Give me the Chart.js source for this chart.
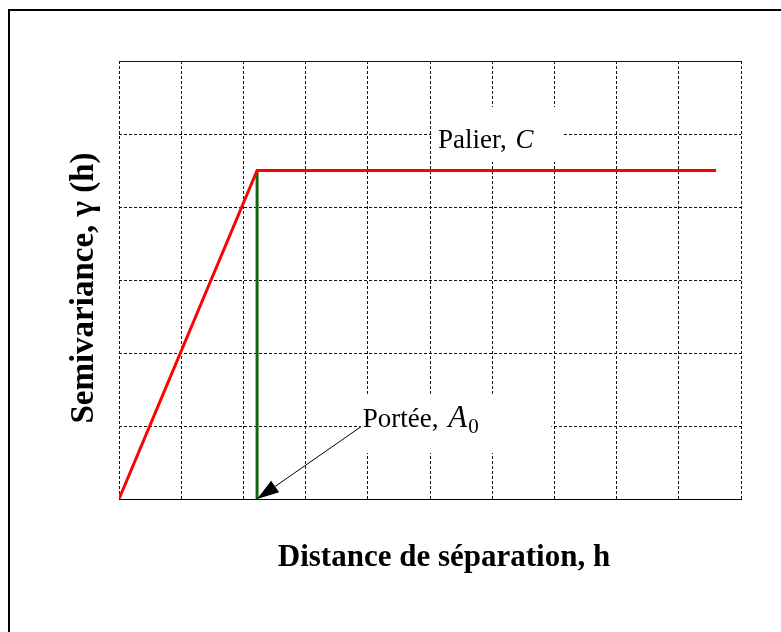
<!DOCTYPE html>
<html lang="fr">
  <head>
    <meta charset="UTF-8" />
    <title>Semivariogramme</title>
    <script src="https://cdn.jsdelivr.net/npm/chart.js"></script>
    <style>
      html,
      body {
        margin: 0;
        padding: 0;
        background: #fff;
      }
      .chart-container {
        position: relative;
        width: 781px;
        height: 632px;
      }
    </style>
  </head>
  <body>
    <div class="chart-container">
      <canvas id="variogramChart"></canvas>
    </div>

    <script>
      // model: linear ramp up to the range, then flat sill
      const modelX = [0, 2.22, 9.6];
      const modelY = [0, 4.5, 4.5];
      // range marker (vertical line at A0)
      const rangeX = [2.22, 2.22];
      const rangeY = [0, 4.5];

      const xTitle = "Distance de séparation, h";
      const yTitle = "Semivariance, \u03b3 (h)";
      const sillLabel = ["Palier, ", "C"];
      const rangeLabel = ["Portée, ", "A", "0"];

      const toPoints = (xs, ys) => xs.map((x, i) => ({ x: x, y: ys[i] }));

      const serif = "'Liberation Serif', 'Times New Roman', serif";

      const annotationPlugin = {
        id: "annotations",
        beforeDatasetsDraw(chart) {
          const ctx = chart.ctx;
          const xs = chart.scales.x;
          const ys = chart.scales.y;
          ctx.save();
          ctx.fillStyle = "#fff";
          // label boxes hide the grid behind the text
          const box = (x0, x1, y0, y1) => {
            const l = xs.getPixelForValue(x0);
            const r = xs.getPixelForValue(x1);
            const t = ys.getPixelForValue(y1);
            const b = ys.getPixelForValue(y0);
            ctx.fillRect(l, t, r - l, b - t);
          };
          box(5.02, 7.12, 4.62, 5.37);
          box(3.89, 6.95, 0.63, 1.44);
          ctx.restore();
        },
        afterDatasetsDraw(chart) {
          const ctx = chart.ctx;
          const xs = chart.scales.x;
          const ys = chart.scales.y;
          ctx.save();
          ctx.fillStyle = "#000";
          ctx.textBaseline = "alphabetic";
          ctx.textAlign = "left";

          // Palier, C
          let px = xs.getPixelForValue(5.13);
          let py = ys.getPixelForValue(4.81);
          ctx.font = "27px " + serif;
          ctx.fillText(sillLabel[0], px, py);
          px += ctx.measureText(sillLabel[0]).width + 2;
          ctx.font = "italic 27px " + serif;
          ctx.fillText(sillLabel[1], px, py);

          // Portée, A0
          px = xs.getPixelForValue(3.92);
          py = ys.getPixelForValue(0.99);
          ctx.font = "27px " + serif;
          ctx.fillText(rangeLabel[0], px, py);
          px += ctx.measureText(rangeLabel[0]).width + 3;
          ctx.font = "italic 31px " + serif;
          ctx.fillText(rangeLabel[1], px, py);
          px += ctx.measureText(rangeLabel[1]).width + 1;
          ctx.font = "21px " + serif;
          ctx.fillText(rangeLabel[2], px, py + 6);

          // arrow from label to the range on the axis
          const ax0 = xs.getPixelForValue(3.89);
          const ay0 = ys.getPixelForValue(0.99);
          const ax1 = xs.getPixelForValue(rangeX[0]);
          const ay1 = ys.getPixelForValue(0);
          const ang = Math.atan2(ay1 - ay0, ax1 - ax0);
          const headLen = 22;
          const headW = 7;
          const bx = ax1 - headLen * Math.cos(ang);
          const by = ay1 - headLen * Math.sin(ang);
          ctx.strokeStyle = "#000";
          ctx.lineWidth = 1;
          ctx.beginPath();
          ctx.moveTo(ax0, ay0);
          ctx.lineTo(bx, by);
          ctx.stroke();
          ctx.beginPath();
          ctx.moveTo(ax1, ay1);
          ctx.lineTo(bx + headW * Math.sin(ang), by - headW * Math.cos(ang));
          ctx.lineTo(bx - headW * Math.sin(ang), by + headW * Math.cos(ang));
          ctx.closePath();
          ctx.fill();
          ctx.restore();
        },
        afterDraw(chart) {
          const ctx = chart.ctx;
          const area = chart.chartArea;
          ctx.save();
          ctx.fillStyle = "#000";
          ctx.textAlign = "center";
          ctx.textBaseline = "alphabetic";
          ctx.font = "bold 31px " + serif;
          ctx.fillText(xTitle, (area.left + area.right) / 2 + 14, area.bottom + 67);

          ctx.font = "bold 33px " + serif;
          ctx.translate(area.left - 26, (area.top + area.bottom) / 2 + 8);
          ctx.rotate(-Math.PI / 2);
          ctx.fillText(yTitle, 0, 0);
          ctx.restore();

          // figure frame (left and top edges)
          ctx.save();
          ctx.strokeStyle = "#000";
          ctx.lineWidth = 2;
          ctx.beginPath();
          ctx.moveTo(9, chart.height);
          ctx.lineTo(9, 10);
          ctx.lineTo(chart.width, 10);
          ctx.stroke();
          ctx.restore();
        },
      };

      const gridDash = (ctx) => (ctx.tick && ctx.tick.value === 6 ? [] : [3, 2]);

      const config = {
        type: "scatter",
        data: {
          datasets: [
            {
              label: "Modèle",
              data: toPoints(modelX, modelY),
              showLine: true,
              borderColor: "#ff0000",
              borderWidth: 3,
              pointRadius: 0,
              tension: 0,
            },
            {
              label: "Portée",
              data: toPoints(rangeX, rangeY),
              showLine: true,
              borderColor: "#146414",
              borderWidth: 3,
              pointRadius: 0,
              tension: 0,
            },
          ],
        },
        options: {
          responsive: true,
          maintainAspectRatio: false,
          animation: false,
          layout: {
            padding: { left: 119, top: 61, right: 40, bottom: 133 },
          },
          plugins: {
            legend: { display: false },
            tooltip: { enabled: false },
          },
          scales: {
            x: {
              type: "linear",
              min: 0,
              max: 10,
              ticks: { display: false, stepSize: 1 },
              grid: { color: "#111", lineWidth: 1, drawTicks: false },
              border: { display: true, color: "#000", width: 1, dash: [3, 2] },
            },
            y: {
              type: "linear",
              min: 0,
              max: 6,
              ticks: { display: false, stepSize: 1 },
              grid: { color: "#111", lineWidth: 1, drawTicks: false },
              border: { display: false, dash: gridDash },
            },
          },
        },
        plugins: [annotationPlugin],
      };

      window.onload = function () {
        const ctx = document.getElementById("variogramChart").getContext("2d");
        new Chart(ctx, config);
      };
    </script>
  </body>
</html>
